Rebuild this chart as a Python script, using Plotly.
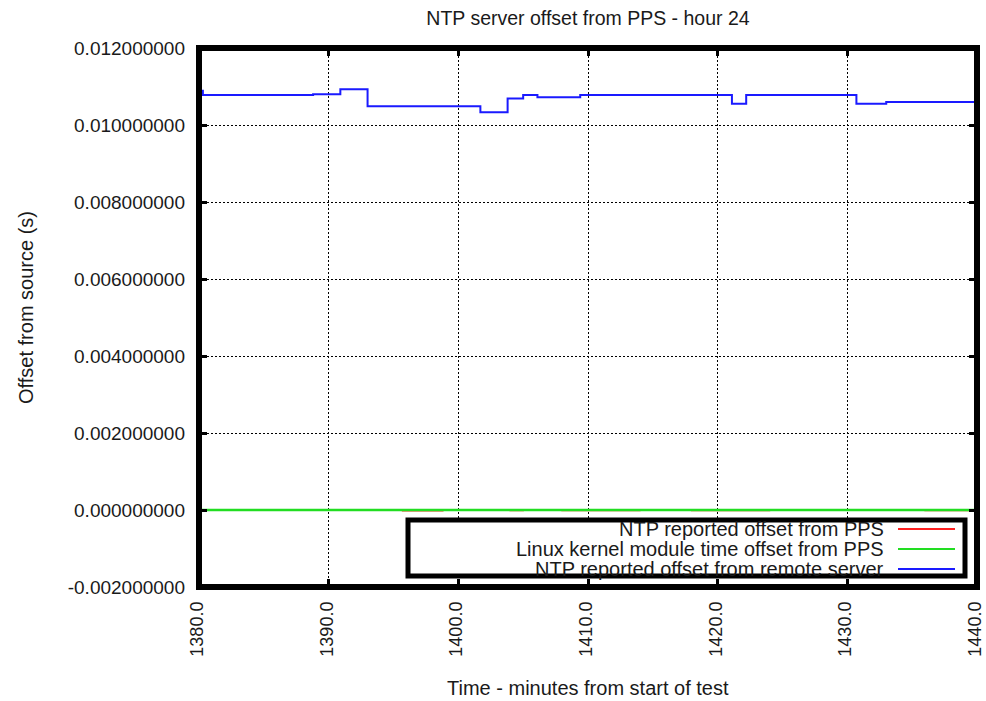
import plotly.graph_objects as go

# ---- data ----
title_text = "NTP server offset from PPS - hour 24"
x_title = "Time - minutes from start of test"
y_title = "Offset from source (s)"

series_names = [
    "NTP reported offset from PPS",
    "Linux kernel module time offset from PPS",
    "NTP reported offset from remote server",
]

# NTP offset from PPS (red) - tiny values near zero
red_x = [1380.0, 1385.0, 1392.0, 1395.7, 1398.8, 1404.0, 1405.0, 1408.0, 1414.0, 1418.0, 1424.0, 1430.0, 1436.0, 1440.0]
red_y = [0.0, -0.000004, 0.0, -0.000018, -0.000003, -0.000012, 0.0, -0.000010, -0.000004, -0.000016, -0.000002, -0.000008, -0.000012, 0.0]

# Kernel module offset (green) - essentially zero
green_x = [1380.0, 1390.0, 1400.0, 1410.0, 1420.0, 1430.0, 1440.0]
green_y = [0.0, 0.0, 0.0, 0.0, 0.0, 0.0, 0.0]

# NTP offset from remote server (blue) - step line
blue_x = [1380.0, 1380.3, 1388.8, 1390.9, 1393.0, 1401.7, 1403.8, 1405.0, 1406.1, 1409.4, 1421.1, 1422.2, 1430.7, 1433.0, 1440.0]
blue_y = [0.01089, 0.01078, 0.01080, 0.01093, 0.01049, 0.01033, 0.01069, 0.01078, 0.01072, 0.01078, 0.01055, 0.01078, 0.01055, 0.01060, 0.01060]

x_ticks = [1380, 1390, 1400, 1410, 1420, 1430, 1440]
y_ticks = [-0.002, 0.0, 0.002, 0.004, 0.006, 0.008, 0.010, 0.012]

colors = ["#ff2020", "#22dd22", "#1a1aff"]

FONT = "Liberation Sans, Arial, sans-serif"
TXT = "#1a1a1a"

# body margin is removed by post_script, so figure starts at (0, 0)
W, H = 986, 701
PL, PR, PT, PB = 199, 977, 48, 587  # plot area in page pixels

fig = go.Figure()
fig.add_trace(go.Scatter(x=red_x, y=red_y, mode="lines", line=dict(color=colors[0], width=1.5, shape="hv"), name=series_names[0]))
fig.add_trace(go.Scatter(x=green_x, y=green_y, mode="lines", line=dict(color=colors[1], width=2.5, shape="hv"), name=series_names[1]))
fig.add_trace(go.Scatter(x=blue_x, y=blue_y, mode="lines", line=dict(color=colors[2], width=2, shape="hv"), name=series_names[2]))

fig.update_layout(
    width=W, height=H,
    margin=dict(l=PL, r=W - PR, t=PT, b=H - PB, pad=0, autoexpand=False),
    paper_bgcolor="white", plot_bgcolor="white",
    showlegend=False,
    font=dict(family=FONT, size=19, color=TXT),
    title=dict(text=title_text, x=0.5, xref="paper", y=1 - 18 / H, yref="container",
               xanchor="center", yanchor="middle", font=dict(family=FONT, size=19.5, color=TXT)),
)

fig.update_xaxes(
    range=[1380, 1440.0001], tickvals=x_ticks, ticktext=[f"{v:.1f}" for v in x_ticks],
    tickangle=-90, showgrid=True, gridcolor="black", gridwidth=1, griddash="2px,2px",
    zeroline=False, showline=False, mirror="ticks", automargin=False,
    ticks="inside", ticklen=8, tickwidth=3, tickcolor="black",
    ticklabelstandoff=10, ticklabeloverflow="allow", ticklabelshift=-2,
    tickfont=dict(family=FONT, size=18, color=TXT),
)
fig.update_yaxes(
    range=[-0.002, 0.012], tickvals=y_ticks, ticktext=[f"{v:.9f}" for v in y_ticks],
    showgrid=True, gridcolor="black", gridwidth=1, griddash="2px,2px",
    zeroline=False, showline=False, mirror="ticks", automargin=False,
    ticks="inside", ticklen=8, tickwidth=3, tickcolor="black",
    ticklabelstandoff=13, tickfont=dict(family=FONT, size=19, color=TXT),
)

# frame around plot
fig.add_shape(type="rect", xref="paper", yref="paper", x0=0, x1=1, y0=0, y1=1,
              line=dict(color="black", width=6), layer="above")


def px_x(p):
    return (p - PL) / (PR - PL)


def px_y(p):
    return (PB - p) / (PB - PT)


# axis titles
fig.add_annotation(text=x_title, xref="paper", yref="paper", x=0.5, y=px_y(688),
                   showarrow=False, xanchor="center", yanchor="middle",
                   font=dict(family=FONT, size=20, color=TXT))
fig.add_annotation(text=y_title, xref="paper", yref="paper", x=px_x(26), y=px_y(308),
                   showarrow=False, xanchor="center", yanchor="middle", textangle=-90,
                   font=dict(family=FONT, size=20, color=TXT))

# legend (gnuplot style: text right-aligned, sample to the right)
fig.add_shape(type="rect", xref="paper", yref="paper", x0=px_x(408), x1=px_x(965),
              y0=px_y(576), y1=px_y(520), line=dict(color="black", width=5),
              fillcolor="white", layer="above")
rows = [529, 549, 569]
for name, col, ry in zip(series_names, colors, rows):
    fig.add_annotation(text=name, xref="paper", yref="paper", x=px_x(886), y=px_y(ry),
                       showarrow=False, xanchor="right", yanchor="middle",
                       font=dict(family=FONT, size=20, color=TXT))
    fig.add_shape(type="line", xref="paper", yref="paper", x0=px_x(898), x1=px_x(955),
                  y0=px_y(ry), y1=px_y(ry), line=dict(color=col, width=2), layer="above")

fig.write_html(
    "out.html",
    config={"displayModeBar": False},
    post_script="document.body.style.margin='0px';document.body.style.overflow='hidden';",
)
